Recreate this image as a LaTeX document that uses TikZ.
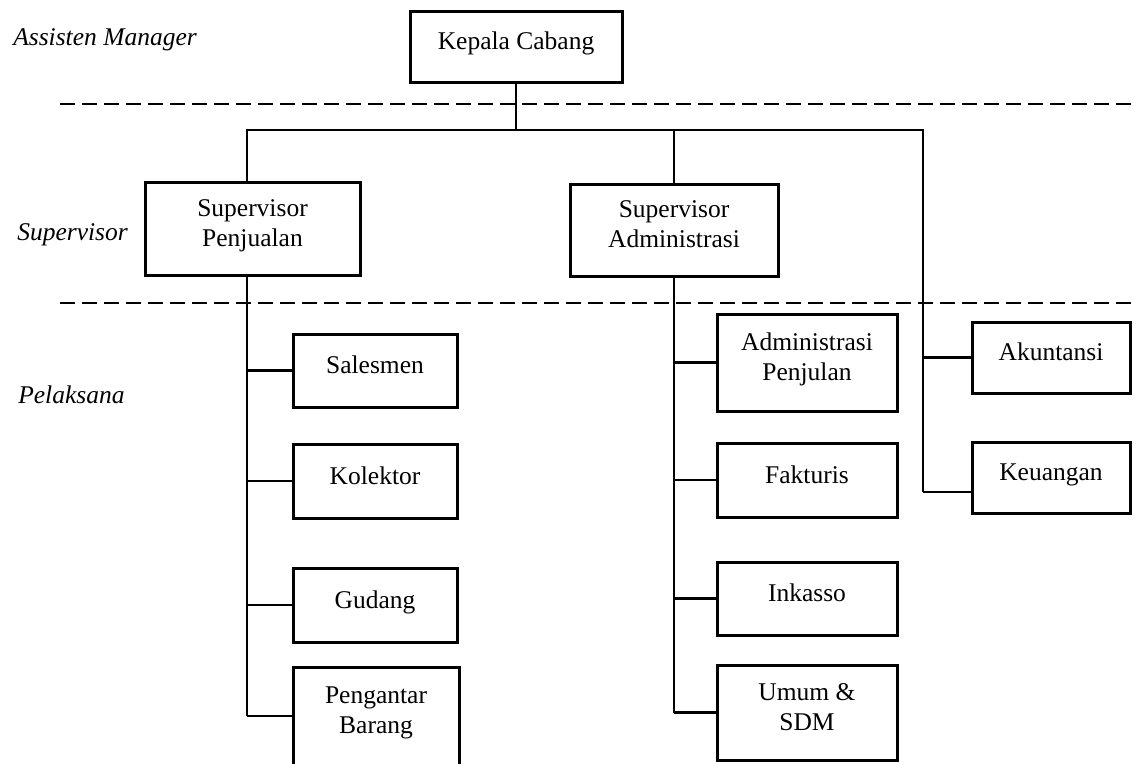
\documentclass[tikz,border=0pt]{standalone}
\usepackage{fontspec}
\setmainfont{Liberation Serif}

\tikzset{every picture/.style={line width=2.6pt}}
\tikzset{
  kotak/.style={draw, line width=3pt, align=center, inner sep=0pt, text depth=11pt, font=\fontsize{25.5}{30}\selectfont},
  garis/.style={line width=2.6pt},
  batas/.style={line width=2.6pt, dash pattern=on 15pt off 7pt},
  tingkat/.style={anchor=base west, inner sep=0pt, font=\fontsize{25.5}{30}\selectfont\itshape}
}

\begin{document}
\begin{tikzpicture}[x=1pt,y=1pt,yscale=-1,xscale=1]
\useasboundingbox (0,0) rectangle (1134,763);

% Level labels
\node[tingkat] (lvl1) at (12,45) {Assisten Manager};
\node[tingkat] (lvl2) at (16,240) {Supervisor};
\node[tingkat] (lvl3) at (17,403) {Pelaksana};

%Dashed separators
\coordinate (d1a) at (60,104);
\coordinate (d1b) at (1134,104);
\coordinate (d2a) at (60,303);
\coordinate (d2b) at (1134,303);
\draw[batas] (d1a) -- (d1b);
\draw[batas] (d2a) -- (d2b);

%Shape: Rectangle (top)
\node[kotak, minimum width=212, minimum height=71] (kc) at (516,46.5) {Kepala Cabang};

%Shape: Rectangle (supervisors)
\node[kotak, minimum width=215, minimum height=93] (sp) at (252.5,228.5) {Supervisor\\Penjualan};
\node[kotak, minimum width=208, minimum height=92] (sa) at (674,230) {Supervisor\\Administrasi};

%Shape: Rectangle (under Supervisor Penjualan)
\node[kotak, minimum width=164, minimum height=73] (sl) at (375,370.5) {Salesmen};
\node[kotak, minimum width=164, minimum height=74] (ko) at (375,481) {Kolektor};
\node[kotak, minimum width=164, minimum height=74] (gd) at (375,605) {Gudang};
\node[kotak, minimum width=166, minimum height=98] (pb) at (376,716) {Pengantar\\Barang};

%Shape: Rectangle (under Supervisor Administrasi)
\node[kotak, minimum width=180, minimum height=97] (ap) at (807,362.5) {Administrasi\\Penjulan};
\node[kotak, minimum width=180, minimum height=74] (fk) at (807,480) {Fakturis};
\node[kotak, minimum width=180, minimum height=73] (ik) at (807,598.5) {Inkasso};
\node[kotak, minimum width=180, minimum height=95] (us) at (807,712.5) {Umum \&\\SDM};

%Shape: Rectangle (right column)
\node[kotak, minimum width=158, minimum height=71] (ak) at (1051,357.5) {Akuntansi};
\node[kotak, minimum width=158, minimum height=71] (kg) at (1051,477.5) {Keuangan};

%Straight Lines: bus
\coordinate (bl) at (247,130);
\coordinate (br) at (923,130);
\coordinate (kgk) at ([yshift=14.5pt]kg.west);
\draw[garis] (kc.south) -- (kc.south |- bl);
\draw[garis] (sp.north -| bl) -- (bl) -- (br) -- (br |- kgk);
\draw[garis] (sa.north) -- (sa.north |- bl);

%Straight Lines: left trunk
\draw[garis] (sp.south -| bl) -- (pb.west -| bl);
\foreach \b in {sl,ko,gd,pb}
  \draw[garis] (\b.west -| bl) -- (\b.west);

%Straight Lines: middle trunk
\draw[garis] (sa.south) -- (sa.south |- us.west);
\foreach \b in {ap,fk,ik,us}
  \draw[garis] (\b.west -| sa.south) -- (\b.west);

%Straight Lines: right branches
\draw[garis] (ak.west -| br) -- (ak.west);
\draw[garis] (kgk -| br) -- (kgk);

\end{tikzpicture}
\end{document}
